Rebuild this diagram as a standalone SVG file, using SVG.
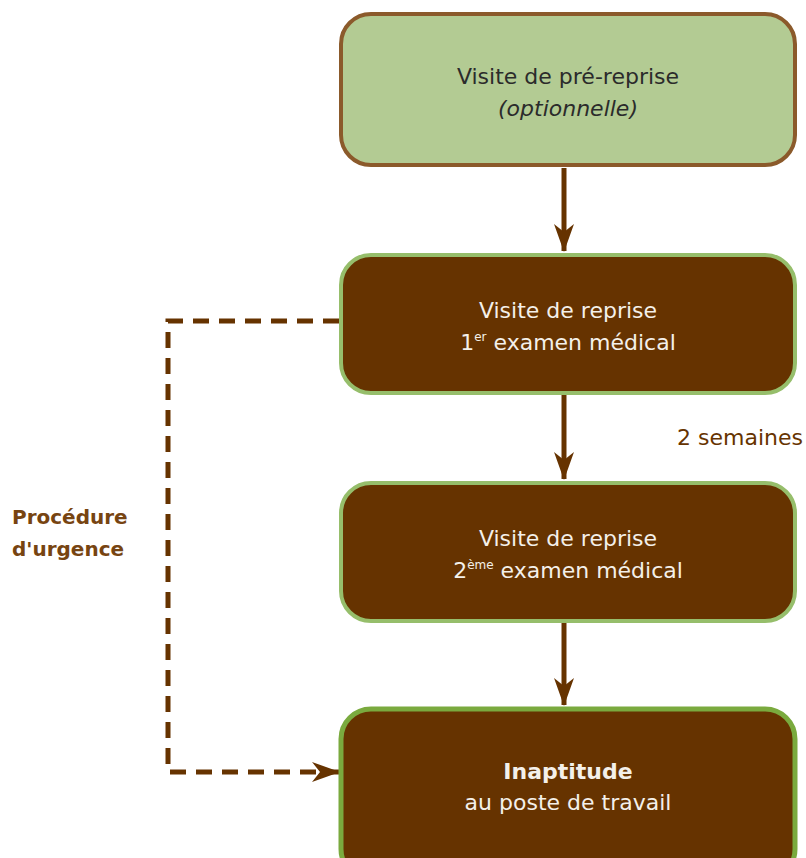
<svg xmlns="http://www.w3.org/2000/svg" width="806" height="858" viewBox="0 0 806 858">
<defs>
<style>
.t{font-family:"DejaVu Sans","Liberation Sans",sans-serif;font-size:22px;text-anchor:middle}
.w{fill:#F4F0EA}
.dark{fill:#663300}
.lbl{font-family:"DejaVu Sans","Liberation Sans",sans-serif;font-size:20px;fill:#663300}
.conn{stroke:#663300;stroke-width:5;fill:none}
</style>
<marker id="ah" viewBox="0 0 28 20" refX="27" refY="10" markerWidth="28" markerHeight="20" markerUnits="userSpaceOnUse" orient="auto">
<path d="M0,0 L28,10 L0,20 L8,10 Z" fill="#663300"/>
</marker>
</defs>
<rect width="806" height="858" fill="#ffffff"/>
<g id="connectors">
<line class="conn" x1="564" y1="168" x2="564" y2="251" marker-end="url(#ah)"/>
<line class="conn" x1="564" y1="395" x2="564" y2="479" marker-end="url(#ah)"/>
<line class="conn" x1="564" y1="623" x2="564" y2="705" marker-end="url(#ah)"/>
<path class="conn" d="M339,321 H168 V772 H339" stroke-dasharray="16 10" marker-end="url(#ah)"/>
</g>
<g id="node-prereprise">
<rect x="341" y="14" width="454" height="151" rx="30" fill="#B3CB93" stroke="#8B5A2B" stroke-width="4"/>
<text class="t" x="568" y="84" fill="#2B2B2B">Visite de pré-reprise</text>
<text class="t" x="568" y="116" fill="#2B2B2B" font-style="italic">(optionnelle)</text>
</g>
<g id="node-reprise1">
<rect x="341" y="255" width="454" height="138" rx="30" class="dark" stroke="#96BE6B" stroke-width="4"/>
<text class="t w" x="568" y="318">Visite de reprise</text>
<text class="t w" x="568" y="350">1<tspan font-size="12" dy="-9">er</tspan><tspan dy="9"> examen médical</tspan></text>
</g>
<g id="node-reprise2">
<rect x="341" y="483" width="454" height="138" rx="30" class="dark" stroke="#96BE6B" stroke-width="4"/>
<text class="t w" x="568" y="546">Visite de reprise</text>
<text class="t w" x="568" y="578">2<tspan font-size="12" dy="-9">ème</tspan><tspan dy="9"> examen médical</tspan></text>
</g>
<g id="node-inaptitude">
<rect x="341" y="709" width="454" height="170" rx="30" class="dark" stroke="#7AAA3E" stroke-width="5"/>
<text class="t w" x="568" y="779" font-weight="bold">Inaptitude</text>
<text class="t w" x="568" y="810">au poste de travail</text>
</g>
<g id="labels">
<text class="lbl" x="803" y="445" text-anchor="end" style="font-size:22px">2 semaines</text>
<text class="lbl" x="12" y="524" font-weight="bold" style="fill:#774411">Procédure</text>
<text class="lbl" x="12" y="556" font-weight="bold" style="fill:#774411">d'urgence</text>
</g>
</svg>
